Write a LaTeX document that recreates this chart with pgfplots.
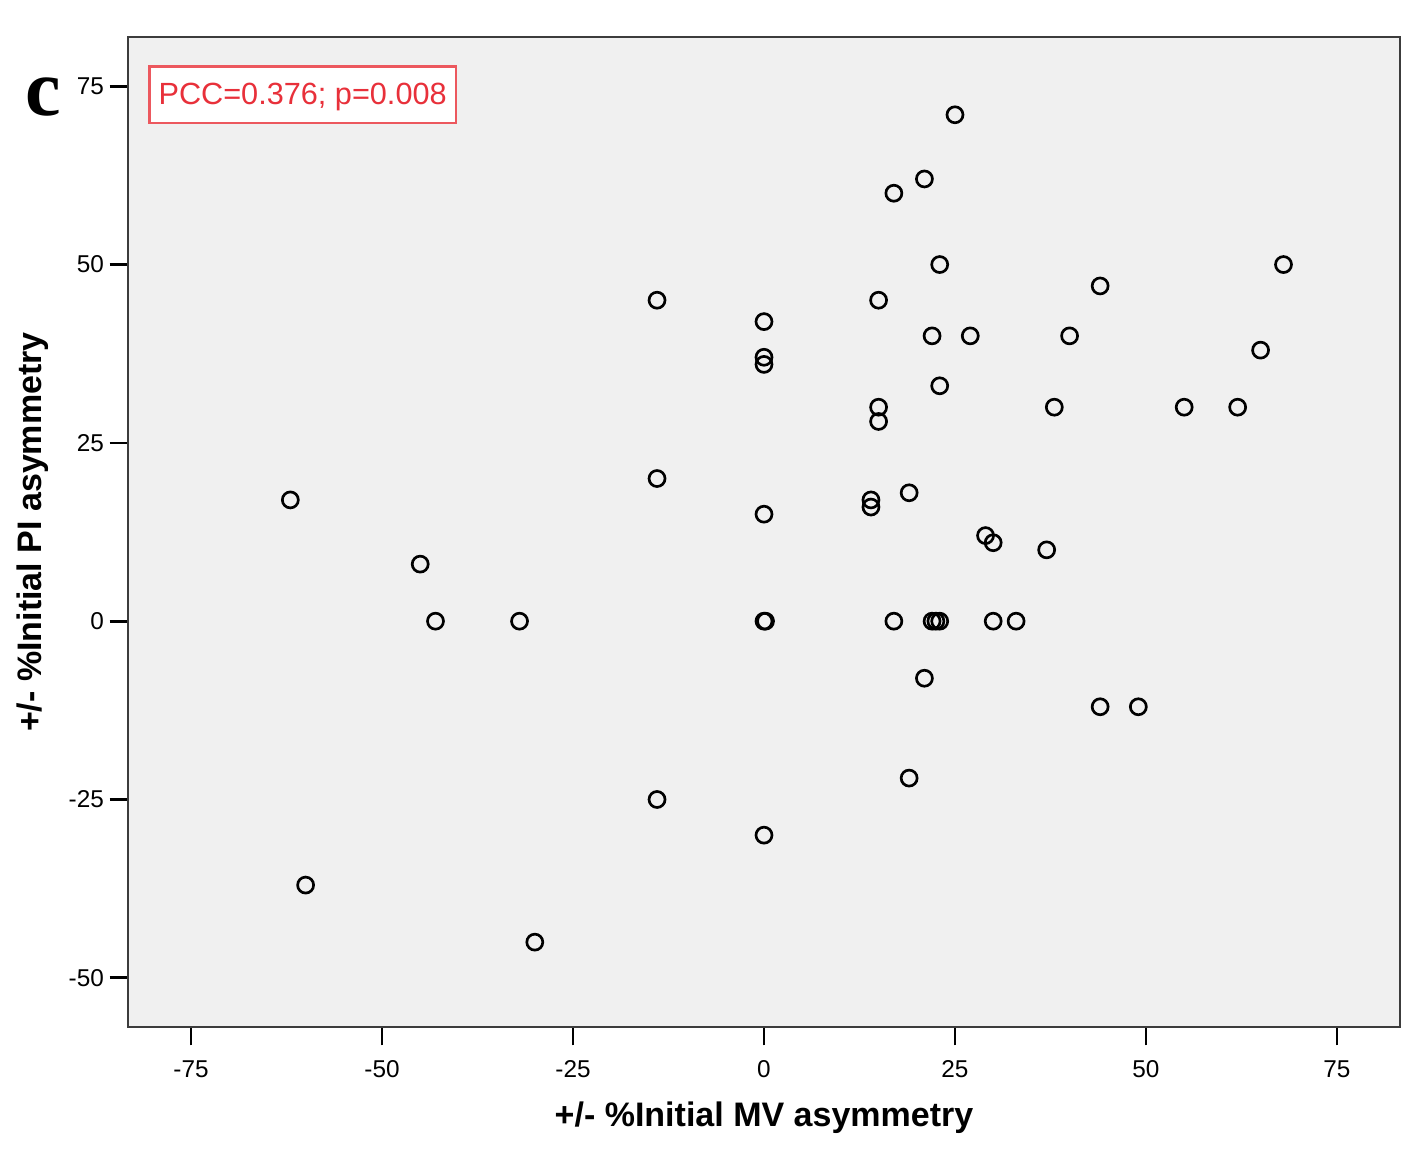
\documentclass[border=0pt]{standalone}
\usepackage{pgfplots}
\pgfplotsset{compat=1.18}
\usepackage{fontspec}
\setmainfont{Liberation Sans}
\newfontfamily\serifb{Liberation Serif}
\definecolor{bgc}{RGB}{240,240,240}
\definecolor{axc}{RGB}{60,60,60}
\definecolor{pccred}{RGB}{232,48,58}
\definecolor{pccbord}{RGB}{236,88,94}
\begin{document}
\begin{tikzpicture}
\useasboundingbox (-38.4pt,-43.8pt) rectangle (386.7pt,308.1pt);
\begin{axis}[
  at={(0pt,0pt)}, anchor=south west,
  scale only axis,
  width=381.6pt, height=297pt,
  xmin=-83.25, xmax=83.25,
  ymin=-56.9, ymax=81.9,
  axis background/.style={fill=bgc},
  axis line style={axc, line width=0.7pt},
  tick pos=left,
  tick align=outside,
  major tick length=5.5pt,
  every tick/.style={black, line width=0.8pt},
  xtick={-75,-50,-25,0,25,50,75},
  xticklabels={-75,-50,-25,0,25,50,75},
  ytick={-50,-25,0,25,50,75},
  yticklabels={-50,-25,0,25,50,75},
  ticklabel style={font=\fontsize{7.3}{8}\selectfont},
  yticklabel style={xshift=1.8pt},
  xticklabel style={yshift=-1pt},
  every axis x label/.style={at={(axis description cs:0.5,0)}, yshift=-27.3pt, anchor=center},
  every axis y label/.style={at={(axis description cs:0,0.5)}, xshift=-28.5pt, rotate=90, anchor=center},
  label style={font=\fontsize{10.2}{12}\selectfont\bfseries},
  xlabel={+/- \%Initial MV asymmetry},
  ylabel={+/- \%Initial PI asymmetry},
  clip=false,
]
\addplot[only marks, mark=o, mark size=2.4pt, mark options={black, line width=0.8pt}] coordinates {
(25,71) (21,62) (17,60) (23,50) (68,50) (44,47) (-14,45) (15,45) (0,42)
(22,40) (27,40) (40,40) (65,38) (0,37) (0,36) (23,33) (15,30) (38,30)
(55,30) (62,30) (15,28) (-14,20) (-62,17) (14,17) (14,16) (19,18) (0,15)
(29,12) (30,11) (37,10) (-45,8) (-43,0) (-32,0) (0,0) (0.2,0) (17,0)
(22,0) (22.5,0) (23,0) (30,0) (33,0) (21,-8) (44,-12) (49,-12) (19,-22)
(-14,-25) (0,-30) (-60,-37) (-30,-45)
};
\node[draw=pccbord, line width=0.8pt, fill=white, text=pccred, anchor=north west,
  minimum width=92pt, minimum height=17pt, inner sep=1pt, text depth=0.5pt,
  font=\fontsize{9.2}{10}\selectfont]
  at ([xshift=6pt,yshift=-8.4pt]rel axis cs:0,1) {PCC=0.376; p=0.008};
\end{axis}
\node[font=\fontsize{24}{26}\selectfont\serifb\bfseries] at (-25.5pt,279pt) {c};
\end{tikzpicture}
\end{document}
